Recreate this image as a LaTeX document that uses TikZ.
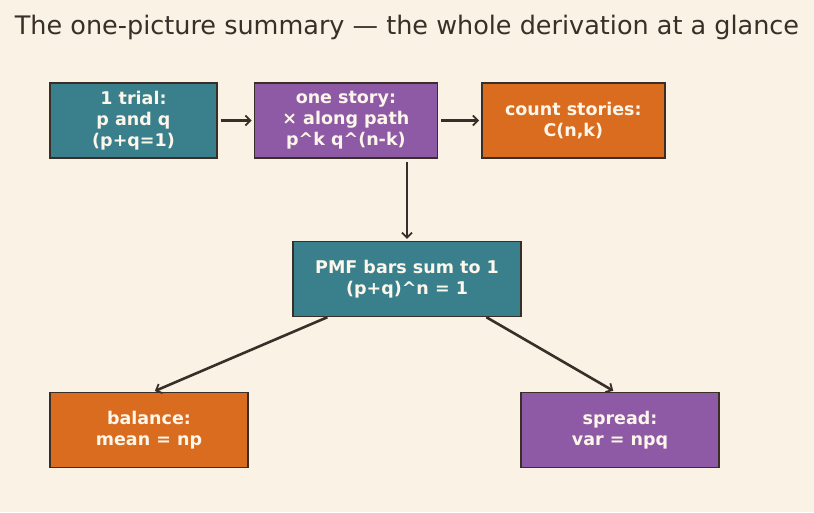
\documentclass[tikz,border=0pt]{standalone}
\usepackage{fontspec}
\setmainfont{DejaVu Sans}
\usetikzlibrary{arrows.meta,positioning,calc}
\definecolor{paper}{HTML}{FAF2E4}
\definecolor{ink}{HTML}{3A2E28}
\definecolor{tealbox}{HTML}{3A7F8C}
\definecolor{plumbox}{HTML}{8E5AA6}
\definecolor{orangebox}{HTML}{D96C1F}
\definecolor{boxtext}{HTML}{FDF6EA}

\begin{document}
\begin{tikzpicture}[x=1pt, y=-1pt, >={Straight Barb[length=5pt,width=10pt,line width=1.8pt]},
	   node distance=36pt,
	   box/.style={draw=ink, line width=1.4pt, inner sep=0pt, align=center, text=boxtext,
	     font=\fontsize{17.5}{21}\selectfont\bfseries, minimum height=75pt},
	   link/.style={->, draw=ink, line width=2.6pt, shorten >=2pt}]
	  \fill[paper] (0,0) rectangle (814,512);
	  \useasboundingbox (0,0) rectangle (814,512);
	  \node[text=ink, font=\fontsize{25.5}{28}\selectfont] (title) at (407,27) {The one-picture summary — the whole derivation at a glance};
	  % top row
	  \node[box, fill=tealbox, minimum width=167pt] (trial) at (133.5,120.5) {1 trial:\\ p and q\\ (p+q=1)};
	  \node[box, fill=plumbox, minimum width=183pt, right=of trial] (story) {one story:\\ × along path\\ p\^{}k q\^{}(n-k)};
	  \node[box, fill=orangebox, minimum width=183pt, right=43pt of story] (count) {count stories:\\ C(n,k)};
	  % middle
	  \node[box, fill=tealbox, minimum width=228pt] (pmf) at (407,279) {PMF bars sum to 1\\ (p+q)\^{}n = 1};
	  % bottom row
	  \node[box, fill=orangebox, minimum width=198pt] (mean) at (149,430) {balance:\\ mean = np};
	  \node[box, fill=plumbox, minimum width=198pt] (spread) at (620,430) {spread:\\ var = npq};
	  \draw[link, shorten <=3pt] (trial) -- (story);
	  \draw[link, shorten <=3pt] (story) -- (count);
	  \draw[link, shorten <=3pt] (story.south -| pmf.north) -- (pmf.north);
	  \draw[link] ($(pmf.south west)!0.153!(pmf.south east)$) -- ($(mean.north)+(4,0)$);
	  \draw[link] ($(pmf.south west)!0.846!(pmf.south east)$) -- ($(spread.north)+(-5,0)$);
	\end{tikzpicture}
\end{document}
